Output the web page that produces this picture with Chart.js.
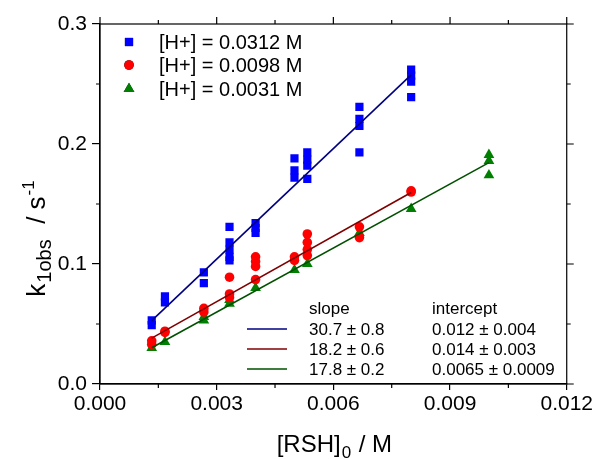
<!DOCTYPE html>
<html>
<head>
<meta charset="utf-8">
<script src="https://cdn.jsdelivr.net/npm/chart.js@4/dist/chart.umd.min.js"></script>
<style>
  html, body { margin: 0; padding: 0; background: #ffffff; }
  canvas { display: block; }
</style>
</head>
<body>
<canvas id="c" width="595" height="459"></canvas>
<script>
// ---------- data ----------
const seriesLabels = ['[H+] = 0.0312 M', '[H+] = 0.0098 M', '[H+] = 0.0031 M'];

const rshBlue = [0.00133,0.00133,0.00167,0.00167,0.00267,0.00267,0.00333,0.00333,0.00333,0.00333,0.00333,
                 0.004,0.004,0.004,0.005,0.005,0.005,0.00533,0.00533,0.00533,0.00533,
                 0.00667,0.00667,0.00667,0.00667,0.008,0.008,0.008,0.008];
const kBlue   = [0.049,0.053,0.068,0.073,0.084,0.093,0.131,0.118,0.112,0.106,0.103,
                 0.134,0.130,0.126,0.188,0.178,0.172,0.193,0.187,0.182,0.171,
                 0.231,0.221,0.215,0.193,0.262,0.257,0.252,0.239];

const rshRed = [0.00133,0.00133,0.00167,0.00167,0.00267,0.00267,0.00333,0.00333,0.00333,
                0.004,0.004,0.004,0.004,0.005,0.005,0.00533,0.00533,0.00533,0.00533,
                0.00667,0.00667,0.008,0.008];
const kRed   = [0.033,0.036,0.043,0.044,0.060,0.063,0.089,0.075,0.072,
                0.106,0.102,0.098,0.087,0.106,0.103,0.125,0.118,0.112,0.107,
                0.131,0.122,0.160,0.161];

const rshGreen = [0.00133,0.00167,0.00267,0.00267,0.00333,0.00333,0.004,0.005,0.00533,0.00667,0.008,0.01,0.01,0.01];
const kGreen   = [0.030,0.035,0.053,0.056,0.067,0.070,0.080,0.095,0.100,0.126,0.146,0.191,0.186,0.174];

const slopes = [30.7, 18.2, 17.8];
const intercepts = [0.012, 0.014, 0.0065];
const slopeText = ['30.7 \u00b1 0.8', '18.2 \u00b1 0.6', '17.8 \u00b1 0.2'];
const interceptText = ['0.012 \u00b1 0.004', '0.014 \u00b1 0.003', '0.0065 \u00b1 0.0009'];

const xTickValues = [0, 0.003, 0.006, 0.009, 0.012];
const yTickValues = [0.0, 0.1, 0.2, 0.3];

// ---------- styles ----------
const pointColors = ['#0000ff', '#ff0000', '#008000'];
const lineColors  = ['#000080', '#800000', '#005000'];
const pointStyles = ['rect', 'circle', 'triangle'];
const pointRadii  = [5.8, 4.8, 6.2];
const FONT = "'Liberation Sans', Arial, sans-serif";

const toPts = (xs, ys) => xs.map((x, i) => ({ x: x, y: ys[i] }));
const fitLine = (xs, m, b) => {
  const lo = Math.min(...xs), hi = Math.max(...xs);
  return [{ x: lo, y: m * lo + b }, { x: hi, y: m * hi + b }];
};

const xsAll = [rshBlue, rshRed, rshGreen];
const ysAll = [kBlue, kRed, kGreen];

const datasets = [];
for (let i = 0; i < 3; i++) {
  datasets.push({
    label: 'fit ' + i,
    data: fitLine(xsAll[i], slopes[i], intercepts[i]),
    showLine: true,
    borderColor: lineColors[i],
    borderWidth: 1.6,
    pointRadius: 0,
    fill: false,
    order: 0
  });
}
for (let i = 0; i < 3; i++) {
  datasets.push({
    label: seriesLabels[i],
    data: toPts(xsAll[i], ysAll[i]),
    showLine: false,
    pointStyle: pointStyles[i],
    pointRadius: pointRadii[i],
    backgroundColor: pointColors[i],
    borderColor: pointColors[i],
    borderWidth: 0,
    order: 1
  });
}

const decor = {
  id: 'decor',
  afterDraw(chart) {
    const ctx = chart.ctx;
    const a = chart.chartArea;
    const xs = chart.scales.x, ys = chart.scales.y;
    ctx.save();
    // frame
    ctx.strokeStyle = '#000';
    ctx.lineWidth = 1.2;
    ctx.strokeRect(a.left, a.top, a.right - a.left, a.bottom - a.top);
    // ticks on all four sides (major + minor)
    ctx.beginPath();
    for (let i = 0; i < xTickValues.length; i++) {
      const px = xs.getPixelForValue(xTickValues[i]);
      ctx.moveTo(px, a.top); ctx.lineTo(px, a.top - 7);
      if (i < xTickValues.length - 1) {
        const mid = xs.getPixelForValue((xTickValues[i] + xTickValues[i + 1]) / 2);
        ctx.moveTo(mid, a.top); ctx.lineTo(mid, a.top - 4);
        ctx.moveTo(mid, a.bottom); ctx.lineTo(mid, a.bottom + 4);
      }
    }
    for (let i = 0; i < yTickValues.length; i++) {
      const py = ys.getPixelForValue(yTickValues[i]);
      ctx.moveTo(a.right, py); ctx.lineTo(a.right + 7, py);
      if (i < yTickValues.length - 1) {
        const mid = ys.getPixelForValue((yTickValues[i] + yTickValues[i + 1]) / 2);
        ctx.moveTo(a.right, mid); ctx.lineTo(a.right + 4, mid);
        ctx.moveTo(a.left, mid); ctx.lineTo(a.left - 4, mid);
      }
    }
    ctx.stroke();

    // legend (top-left, inside)
    ctx.fillStyle = '#000';
    ctx.textBaseline = 'middle';
    ctx.textAlign = 'left';
    ctx.font = '20px ' + FONT;
    const legY = [42, 65, 89];
    for (let i = 0; i < 3; i++) {
      Chart.helpers.drawPoint(ctx, {
        pointStyle: pointStyles[i], radius: pointRadii[i], borderWidth: 0, rotation: 0
      }, 129, legY[i]);
      ctx.fillStyle = pointColors[i];
      ctx.fill();
      ctx.fillStyle = '#000';
      ctx.fillText(seriesLabels[i], 159, legY[i] + 1);
    }

    // fit table (bottom-right, inside)
    ctx.font = '17px ' + FONT;
    ctx.textBaseline = 'alphabetic';
    ctx.fillText('slope', 309, 314);
    ctx.fillText('intercept', 432, 314);
    const rowY = [335, 355, 375];
    for (let i = 0; i < 3; i++) {
      ctx.fillStyle = '#000';
      ctx.fillText(slopeText[i], 309, rowY[i]);
      ctx.fillText(interceptText[i], 432, rowY[i]);
      ctx.strokeStyle = lineColors[i];
      ctx.lineWidth = 1.6;
      ctx.beginPath();
      ctx.moveTo(247, rowY[i] - 6);
      ctx.lineTo(287, rowY[i] - 6);
      ctx.stroke();
    }

    // x axis title: [RSH]0 / M
    ctx.fillStyle = '#000';
    ctx.textBaseline = 'alphabetic';
    const big = '24px ' + FONT, small = '17px ' + FONT;
    ctx.font = big; const w1 = ctx.measureText('[RSH]').width;
    ctx.font = small; const w2 = ctx.measureText('0').width;
    ctx.font = big; const w3 = ctx.measureText(' / M').width;
    let x0 = (a.left + a.right) / 2 - (w1 + w2 + w3) / 2;
    const by = 452;
    ctx.font = big; ctx.fillText('[RSH]', x0, by);
    ctx.font = small; ctx.fillText('0', x0 + w1 + 1, by + 6);
    ctx.font = big; ctx.fillText(' / M', x0 + w1 + w2 + 2, by);

    // y axis title: k1obs / s-1 (rotated)
    ctx.translate(45, 240);
    ctx.rotate(-Math.PI / 2);
    const yb = '26px ' + FONT;
    const sub = '20px ' + FONT;
    const sup = '17px ' + FONT;
    ctx.font = yb; const a1 = ctx.measureText('k').width;
    ctx.font = sub; const a2 = ctx.measureText('1obs').width;
    ctx.font = yb; const a3 = ctx.measureText('  / s').width;
    ctx.font = sup; const a4 = ctx.measureText('-1').width;
    let t0 = -(a1 + a2 + a3 + a4) / 2;
    ctx.font = yb; ctx.fillText('k', t0, 0);
    ctx.font = sub; ctx.fillText('1obs', t0 + a1 + 1, 6);
    ctx.font = yb; ctx.fillText('  / s', t0 + a1 + a2 + 2, 0);
    ctx.font = sup; ctx.fillText('-1', t0 + a1 + a2 + a3 + 3, -11);
    ctx.restore();
  }
};

new Chart(document.getElementById('c'), {
  type: 'scatter',
  data: { datasets: datasets },
  options: {
    responsive: false,
    animation: false,
    devicePixelRatio: 1,
    layout: { padding: { top: 24, right: 28, left: 0, bottom: 0 } },
    plugins: { legend: { display: false }, tooltip: { enabled: false } },
    scales: {
      x: {
        type: 'linear', min: 0, max: 0.012,
        afterBuildTicks: s => { s.ticks = xTickValues.map(v => ({ value: v })); },
        afterFit: s => { s.height = 75; },
        ticks: { color: '#000', font: { family: FONT, size: 21 }, padding: 2, maxRotation: 0,
                 callback: v => Number(v).toFixed(3) },
        grid: { display: true, drawOnChartArea: false, drawTicks: true, tickLength: 6, color: '#000', lineWidth: 1.2 },
        border: { display: true, color: '#000', width: 1.2 }
      },
      y: {
        type: 'linear', min: 0, max: 0.3,
        afterBuildTicks: s => { s.ticks = yTickValues.map(v => ({ value: v })); },
        afterFit: s => { s.width = 100; },
        ticks: { color: '#000', font: { family: FONT, size: 21 }, padding: 5,
                 callback: v => Number(v).toFixed(1) },
        grid: { display: true, drawOnChartArea: false, drawTicks: true, tickLength: 8, color: '#000', lineWidth: 1.2 },
        border: { display: true, color: '#000', width: 1.2 }
      }
    }
  },
  plugins: [decor]
});
</script>
</body>
</html>
